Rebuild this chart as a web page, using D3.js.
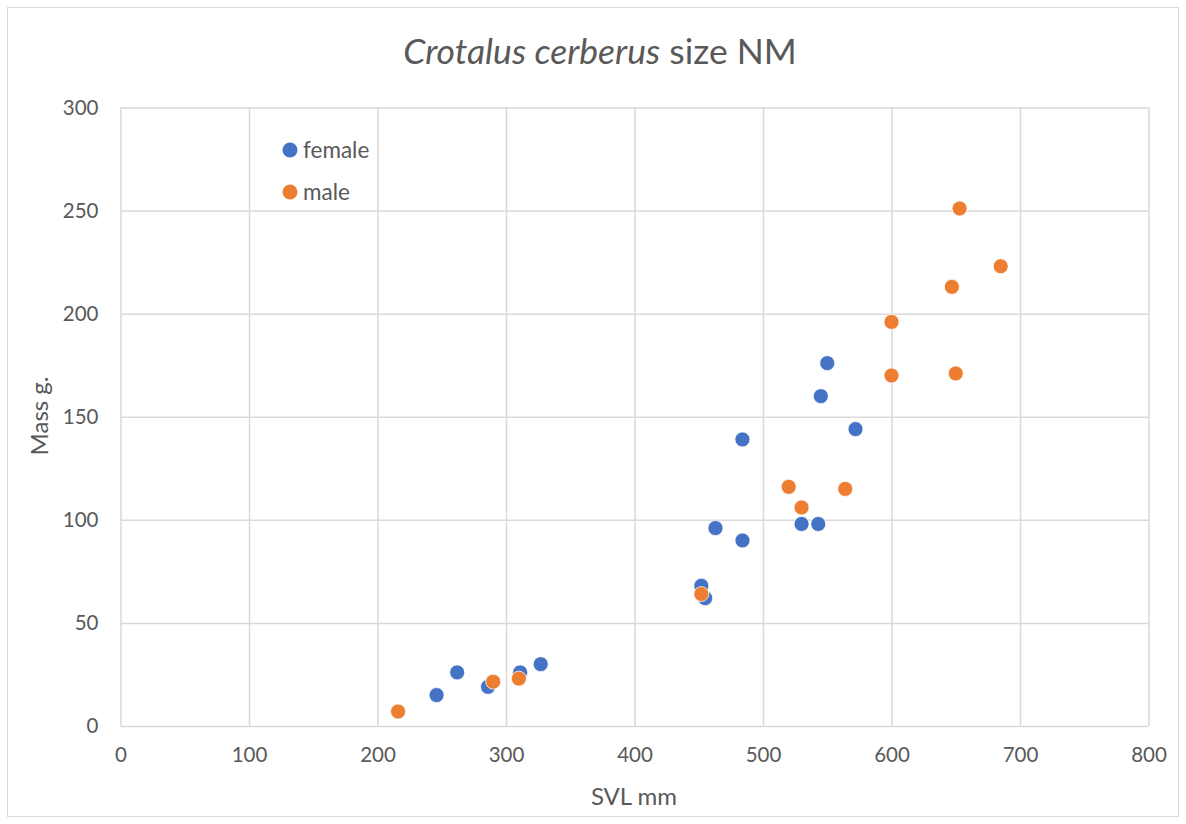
<!DOCTYPE html>
<html><head><meta charset="utf-8">
<script src="https://cdn.jsdelivr.net/npm/d3@7"></script>
<style>body{margin:0;background:#fff;} svg{display:block;}</style>
</head><body>
<svg id="c" width="1186" height="824"></svg>
<script>
const femaleSVL  = [246, 262, 286, 311, 327, 452, 455, 463, 484, 484, 530, 543, 545, 550, 572];
const femaleMass = [15, 26, 19, 26, 30, 68, 62, 96, 90, 139, 98, 98, 160, 176, 144];
const maleSVL  = [216, 290, 310, 452, 520, 530, 564, 600, 600, 647, 650, 653, 685];
const maleMass = [7, 21.5, 23, 64, 116, 106, 115, 196, 170, 213, 171, 251, 223];
const xTicks = [0, 100, 200, 300, 400, 500, 600, 700, 800];
const yTicks = [0, 50, 100, 150, 200, 250, 300];
const seriesNames = ["female", "male"];
const seriesColors = ["#4472C4", "#ED7D31"];

const svg = d3.select("#c");
const font = "Lato, 'Open Sans', sans-serif";
const txt = "#595959";
svg.append("rect").attr("x",7.5).attr("y",7.5).attr("width",1171).attr("height",809)
  .attr("fill","#fff").attr("stroke","#d9d9d9").attr("stroke-width",1);

const x = d3.scaleLinear().domain([0,800]).range([120.5,1148.5]);
const y = d3.scaleLinear().domain([0,300]).range([726,107.5]);

const g = svg.append("g");
// gridlines
g.append("g").attr("transform","translate(0,726)")
  .call(d3.axisBottom(x).tickValues(xTicks).tickSize(-(726-107.5)).tickFormat(""))
  .call(s=>s.select(".domain").remove())
  .call(s=>s.selectAll("line").attr("stroke","#d9d9d9").attr("stroke-width",1.5));
g.append("g").attr("transform","translate(120.5,0)")
  .call(d3.axisLeft(y).tickValues(yTicks).tickSize(-(1148.5-120.5)).tickFormat(""))
  .call(s=>s.select(".domain").remove())
  .call(s=>s.selectAll("line").attr("stroke","#d9d9d9").attr("stroke-width",1.5));

// tick labels
const xa = g.append("g").attr("transform","translate(0,726)")
  .call(d3.axisBottom(x).tickValues(xTicks).tickSize(0).tickPadding(21));
xa.select(".domain").remove();
xa.selectAll("text").attr("fill",txt).style("font-family",font).style("font-size","20.5px");
const ya = g.append("g").attr("transform","translate(120.5,0)")
  .call(d3.axisLeft(y).tickValues(yTicks).tickSize(0).tickPadding(22));
ya.select(".domain").remove();
ya.selectAll("text").attr("fill",txt).style("font-family",font).style("font-size","20.5px").attr("text-anchor","end").attr("dx","0");

// points
function draw(xs, ys, color){
  g.append("g").selectAll("circle").data(xs.map((v,i)=>[v,ys[i]])).join("circle")
    .attr("cx",d=>x(d[0])).attr("cy",d=>y(d[1])).attr("r",7.5)
    .attr("fill",color).attr("stroke","#fff").attr("stroke-width",0.75);
}
draw(femaleSVL, femaleMass, seriesColors[0]);
draw(maleSVL, maleMass, seriesColors[1]);

// title
const t = svg.append("text").attr("x",600).attr("y",64).attr("text-anchor","middle")
  .attr("fill",txt).style("font-family",font).style("font-size","35.5px");
t.append("tspan").style("font-style","italic").text("Crotalus cerberus");
t.append("tspan").text(" size NM");

// axis titles
svg.append("text").attr("x",634).attr("y",805).attr("text-anchor","middle").attr("fill",txt)
  .style("font-family",font).style("font-size","24px").text("SVL mm");
svg.append("text").attr("transform","translate(48,416) rotate(-90)").attr("text-anchor","middle").attr("fill",txt)
  .style("font-family",font).style("font-size","24px").text("Mass g.");

// legend
const leg = svg.append("g");
seriesNames.forEach((n,i)=>{
  const cy = 150 + i*42;
  leg.append("circle").attr("cx",290).attr("cy",cy).attr("r",7.5).attr("fill",seriesColors[i]);
  leg.append("text").attr("x",303).attr("y",cy+8).attr("fill",txt)
    .style("font-family",font).style("font-size","22.5px").text(n);
});
</script>
</body></html>
